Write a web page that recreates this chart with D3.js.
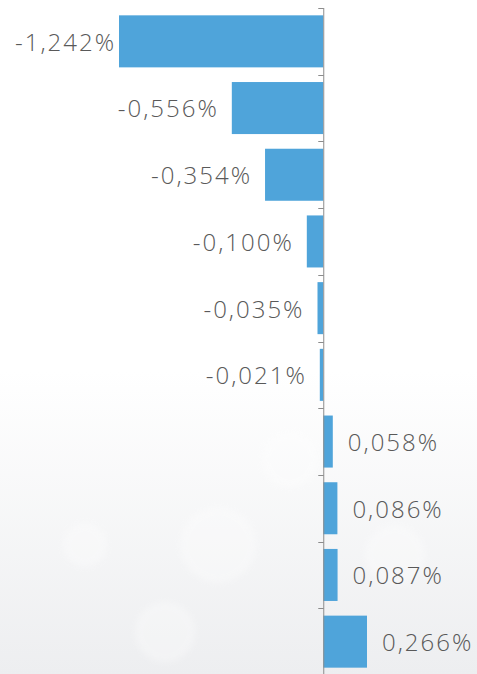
<!DOCTYPE html>
<html><head><meta charset="utf-8">
<script src="https://cdn.jsdelivr.net/npm/d3@7"></script>
<style>html,body{margin:0;padding:0;background:#fff;}svg{display:block;}</style>
</head><body>
<svg id="chart" width="477" height="674"></svg>
<script>
const categories = ["c1","c2","c3","c4","c5","c6","c7","c8","c9","c10"];
const values = [-1.242, -0.556, -0.354, -0.100, -0.035, -0.021, 0.058, 0.086, 0.087, 0.266];
const labels = ["-1,242%","-0,556%","-0,354%","-0,100%","-0,035%","-0,021%","0,058%","0,086%","0,087%","0,266%"];

const W = 477, H = 674;
const svg = d3.select("#chart");
const defs = svg.append("defs");
const grad = defs.append("linearGradient").attr("id","bg").attr("x1",0).attr("y1",0).attr("x2",0).attr("y2",1);
grad.append("stop").attr("offset","0%").attr("stop-color","#ffffff");
grad.append("stop").attr("offset","55%").attr("stop-color","#ffffff");
grad.append("stop").attr("offset","100%").attr("stop-color","#edeef0");
svg.append("rect").attr("width",W).attr("height",H).attr("fill","url(#bg)");
const blur = defs.append("filter").attr("id","blur").append("feGaussianBlur").attr("stdDeviation",3);
const bokeh = [[85,545,22],[218,545,38],[165,632,30],[395,555,30],[290,460,28]];
svg.append("g").selectAll("circle").data(bokeh).join("circle")
  .attr("cx",d=>d[0]).attr("cy",d=>d[1]).attr("r",d=>d[2])
  .attr("fill","#ffffff").attr("opacity",0.3).attr("filter","url(#blur)");

const x = d3.scaleLinear().domain([-1.242, 0.266]).range([119, 367]);
const y = d3.scaleBand().domain(categories).range([8, 675]).paddingInner(0.22).paddingOuter(0.11);
const x0 = x(0);

svg.append("g").selectAll("rect").data(values).join("rect")
  .attr("x", d => Math.min(x(d), x0))
  .attr("width", d => Math.abs(x(d) - x0))
  .attr("y", (d,i) => y(categories[i]))
  .attr("height", y.bandwidth())
  .attr("fill", "#4fa4da");

// axis
const ax = svg.append("g").attr("stroke","#8c8c8c").attr("stroke-width",1);
ax.append("line").attr("x1",x0+0.5).attr("x2",x0+0.5).attr("y1",8).attr("y2",H);
const step = y.step();
ax.selectAll("line.tick").data(categories).join("line").attr("class","tick")
  .attr("x1",x0-5).attr("x2",x0+0.5)
  .attr("y1",(d)=>Math.round(y(d) - step*0.11)+0.5)
  .attr("y2",(d)=>Math.round(y(d) - step*0.11)+0.5);

svg.append("g").selectAll("text").data(values).join("text")
  .attr("x", d => d < 0 ? Math.max(x(d) - 13, 116) : x(d) + 15)
  .attr("y", (d,i) => y(categories[i]) + y.bandwidth()/2 + 1)
  .attr("dy","0.35em")
  .attr("text-anchor", d => d < 0 ? "end" : "start")
  .attr("font-family","'Open Sans', sans-serif")
  .attr("font-weight", 300)
  .attr("font-size", 24)
  .attr("letter-spacing", 2)
  .attr("fill","#595959")
  .text((d,i) => labels[i]);
</script>
</body></html>
